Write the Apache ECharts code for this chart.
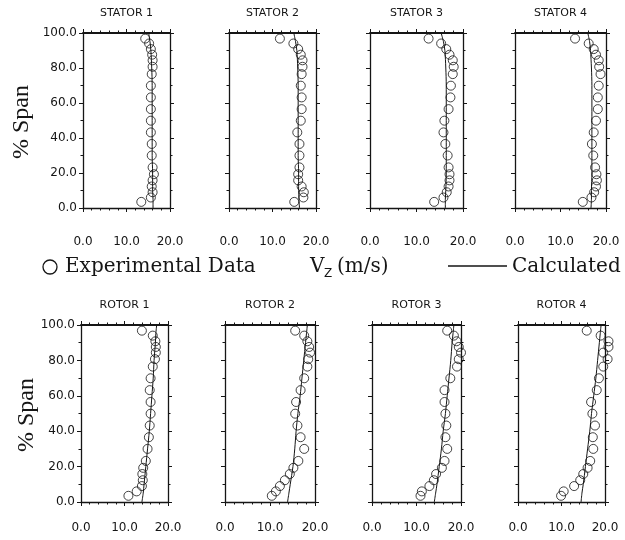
<!DOCTYPE html>
<html>
<head>
<meta charset="utf-8">
<script src="https://cdn.jsdelivr.net/npm/echarts@6/dist/echarts.min.js"></script>
<style>
html,body{margin:0;padding:0;background:#fff;}
#main{width:625px;height:540px;}
</style>
</head>
<body>
<div id="main"></div>
<script>
// panel titles
var panelNames = ['STATOR 1', 'STATOR 2', 'STATOR 3', 'STATOR 4', 'ROTOR 1', 'ROTOR 2', 'ROTOR 3', 'ROTOR 4'];

// measuring positions (% span), shared by all panels
var expSpan = [3.5, 6, 9, 12.3, 15.8, 19.3, 23.2, 30, 36.6, 43.2, 49.9, 56.5, 63.2, 69.9, 76.5, 80.7, 84.4, 87.6, 90.8, 94, 96.8];

// experimental Vz (m/s), bottom to top
var stator1Vz = [13.4, 15.6, 16.0, 15.8, 16.0, 16.3, 16.0, 15.8, 15.8, 15.6, 15.6, 15.6, 15.6, 15.6, 15.8, 16.0, 16.0, 15.9, 15.6, 15.2, 14.3];
var stator2Vz = [15.0, 17.1, 17.2, 16.7, 15.9, 15.9, 16.2, 16.2, 16.2, 15.7, 16.5, 16.7, 16.7, 16.5, 16.7, 16.9, 16.9, 16.5, 15.9, 14.8, 11.7];
var stator3Vz = [13.8, 15.8, 16.5, 16.9, 17.1, 17.1, 16.9, 16.7, 16.2, 15.8, 16.0, 16.9, 17.3, 17.4, 17.8, 18.0, 17.8, 17.1, 16.4, 15.3, 12.6];
var stator4Vz = [14.9, 16.8, 17.4, 17.8, 18.0, 17.9, 17.6, 17.2, 16.9, 17.3, 17.8, 18.2, 18.2, 18.4, 18.8, 18.5, 18.4, 17.8, 17.3, 16.2, 13.2];
var rotor1Vz = [10.9, 12.8, 14.0, 14.2, 14.1, 14.3, 14.9, 15.3, 15.6, 15.8, 16.0, 16.0, 15.8, 16.0, 16.5, 17.0, 17.2, 17.2, 17.1, 16.5, 14.0];
var rotor2Vz = [10.4, 11.3, 12.2, 13.3, 14.4, 15.2, 16.3, 17.6, 16.8, 16.1, 15.6, 15.8, 16.8, 17.6, 18.3, 18.5, 18.9, 18.7, 18.3, 17.6, 15.6];
var rotor3Vz = [10.9, 11.2, 12.9, 13.9, 14.4, 15.7, 16.3, 16.9, 16.5, 16.7, 16.5, 16.3, 16.3, 17.6, 19.1, 19.5, 20.0, 19.5, 19.0, 18.4, 16.9];
var rotor4Vz = [9.9, 10.5, 12.9, 14.3, 15.0, 16.0, 16.6, 17.3, 17.2, 17.7, 17.1, 16.8, 18.1, 18.6, 19.6, 20.6, 19.6, 20.8, 20.8, 19.0, 15.8];

// calculated Vz (m/s)
var calcSpan = [0, 5, 10, 20, 30, 40, 50, 60, 70, 80, 90, 95, 100];
var stator1Calc = [16.1, 16.1, 16.0, 16.0, 15.9, 15.9, 15.9, 15.9, 15.9, 15.8, 15.6, 15.4, 15.1];
var stator2Calc = [16.2, 16.1, 16.0, 16.0, 15.9, 15.9, 15.9, 15.9, 15.9, 15.8, 15.6, 15.3, 14.9];
var stator3Calc = [16.2, 16.2, 16.3, 16.4, 16.4, 16.4, 16.4, 16.4, 16.4, 16.3, 16.1, 15.8, 15.3];
var stator4Calc = [16.7, 16.8, 16.8, 16.9, 16.9, 16.9, 16.9, 16.9, 16.9, 16.8, 16.6, 16.4, 16.0];
var rotor1Calc = [14.0, 14.3, 14.5, 14.9, 15.3, 15.7, 16.0, 16.3, 16.6, 16.8, 17.1, 17.2, 17.4];
var rotor2Calc = [13.9, 14.2, 14.5, 15.1, 15.5, 15.8, 16.2, 16.7, 17.1, 17.5, 17.9, 18.1, 18.3];
var rotor3Calc = [14.0, 14.3, 14.6, 15.1, 15.6, 16.0, 16.5, 16.9, 17.3, 17.7, 18.0, 18.2, 18.4];
var rotor4Calc = [14.5, 14.7, 15.0, 15.5, 16.0, 16.5, 16.9, 17.4, 17.9, 18.3, 18.7, 18.9, 19.1];

var expVz = [stator1Vz, stator2Vz, stator3Vz, stator4Vz, rotor1Vz, rotor2Vz, rotor3Vz, rotor4Vz];
var calcVz = [stator1Calc, stator2Calc, stator3Calc, stator4Calc, rotor1Calc, rotor2Calc, rotor3Calc, rotor4Calc];

// left, top, width, height of each plot box
var panelBoxes = [
	[83, 33, 87, 175], [229, 33, 87, 175], [370, 33, 93, 175], [515, 33, 91, 175],
	[81, 325, 87, 177], [225, 325, 90, 177], [372, 325, 89, 177], [518, 325, 87, 177]
];

var ink = '#151515';
var grids = [], xAxes = [], yAxes = [], series = [], graphics = [];

function frameAxis(extra){
	var a = {
		type: 'value',
		axisLine: {show: true, onZero: false, lineStyle: {color: ink, width: 1.3}},
		axisTick: {show: true, length: 4, lineStyle: {color: ink, width: 1}},
		minorTick: {show: true, length: 2.5, lineStyle: {color: ink, width: 1}},
		splitLine: {show: false},
		axisLabel: {show: false}
	};
	for(var k in extra){ a[k] = extra[k]; }
	return a;
}

panelBoxes.forEach(function(b, i){
	var isTop = i < 4;
	grids.push({left: b[0], top: b[1], width: b[2], height: b[3], show: false});

	xAxes.push(frameAxis({
		gridIndex: i, min: 0, max: 20, interval: 10, position: 'bottom',
		axisLabel: {
			show: true, margin: isTop ? 28 : 20, color: ink, fontSize: 12,
			fontFamily: 'DejaVu Sans',
			formatter: function(v){ return v.toFixed(1); }
		}
	}));
	xAxes[xAxes.length - 1].minorTick.splitNumber = 5;
	xAxes.push(frameAxis({gridIndex: i, min: 0, max: 20, interval: 10, position: 'top'}));
	xAxes[xAxes.length - 1].minorTick.splitNumber = 5;
	xAxes[xAxes.length - 1].axisLine.lineStyle.width = 1.8;

	yAxes.push(frameAxis({
		gridIndex: i, min: 0, max: 100, interval: 20, position: 'left',
		axisLabel: {
			show: i % 4 === 0, margin: 6, color: ink, fontSize: 12,
			fontFamily: 'DejaVu Sans',
			formatter: function(v){ return v.toFixed(1); }
		}
	}));
	yAxes[yAxes.length - 1].minorTick.splitNumber = 2;
	yAxes.push(frameAxis({gridIndex: i, min: 0, max: 100, interval: 20, position: 'right'}));
	yAxes[yAxes.length - 1].minorTick.splitNumber = 2;

	series.push({
		name: 'Experimental Data',
		type: 'scatter',
		xAxisIndex: 2 * i,
		yAxisIndex: 2 * i,
		symbol: 'circle',
		symbolSize: 9,
		clip: false,
		itemStyle: {color: 'rgba(255,255,255,0)', borderColor: ink, borderWidth: 1},
		data: expSpan.map(function(s, k){ return [expVz[i][k], s]; })
	});
	series.push({
		name: 'Calculated',
		type: 'line',
		xAxisIndex: 2 * i,
		yAxisIndex: 2 * i,
		showSymbol: false,
		smooth: 0.3,
		lineStyle: {color: ink, width: 1},
		data: calcSpan.map(function(s, k){ return [calcVz[i][k], s]; })
	});

	graphics.push({
		type: 'text',
		x: b[0] + b[2] / 2,
		y: b[1] - 20,
		style: {text: panelNames[i], fill: ink, font: '11px "DejaVu Sans"', textAlign: 'center', textVerticalAlign: 'middle'}
	});
});

// "% Span" labels
[122, 415].forEach(function(cy, r){
	graphics.push({
		type: 'text', x: r === 0 ? 22 : 27, y: cy, rotation: Math.PI / 2,
		style: {text: '% Span', fill: ink, font: '24px "Liberation Serif"', textAlign: 'center', textVerticalAlign: 'middle'}
	});
});

// legend row
graphics.push({type: 'circle', shape: {cx: 50, cy: 267, r: 7}, style: {fill: 'none', stroke: ink, lineWidth: 1.3}});
graphics.push({type: 'text', x: 65, y: 267, style: {text: 'Experimental Data', fill: ink, font: '20px "DejaVu Serif"', textVerticalAlign: 'middle'}});
graphics.push({type: 'text', x: 310, y: 267, style: {text: 'V', fill: ink, font: '20px "DejaVu Serif"', textVerticalAlign: 'middle'}});
graphics.push({type: 'text', x: 324, y: 274, style: {text: 'Z', fill: ink, font: '12px "DejaVu Sans"', textVerticalAlign: 'middle'}});
graphics.push({type: 'text', x: 337, y: 267, style: {text: '(m/s)', fill: ink, font: '20px "DejaVu Serif"', textVerticalAlign: 'middle'}});
graphics.push({type: 'line', shape: {x1: 448, y1: 266, x2: 507, y2: 266}, style: {stroke: ink, lineWidth: 1.3}});
graphics.push({type: 'text', x: 512, y: 267, style: {text: 'Calculated', fill: ink, font: '20px "DejaVu Serif"', textVerticalAlign: 'middle'}});

var chart = echarts.init(document.getElementById('main'));
chart.setOption({
	animation: false,
	backgroundColor: '#fff',
	grid: grids,
	xAxis: xAxes,
	yAxis: yAxes,
	series: series,
	graphic: graphics
});
</script>
</body>
</html>
